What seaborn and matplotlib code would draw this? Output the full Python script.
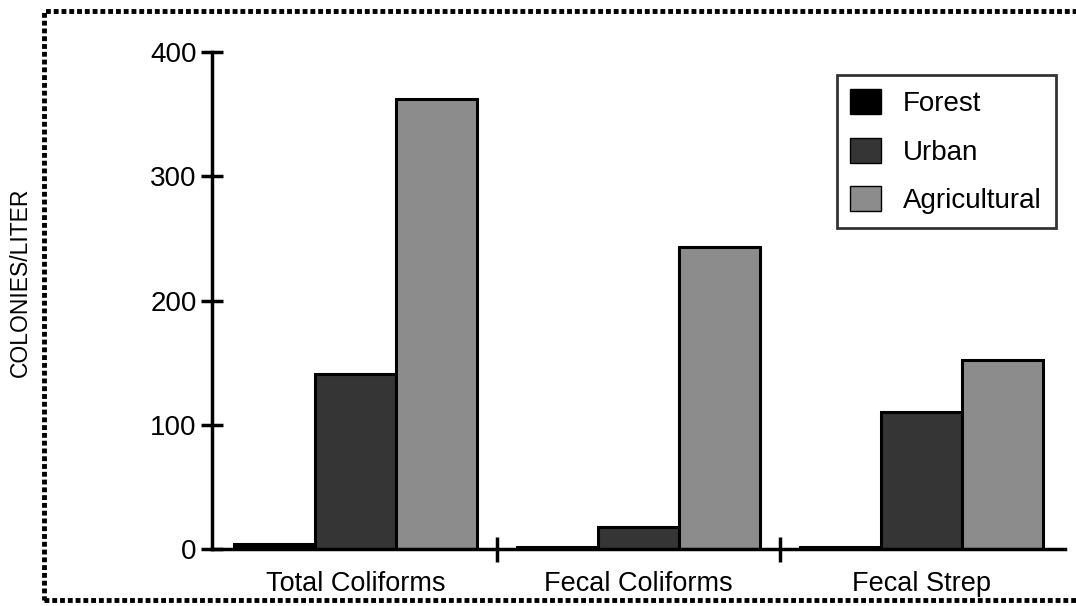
import matplotlib
matplotlib.use("Agg")
import matplotlib.pyplot as plt
import seaborn as sns
import pandas as pd
from matplotlib.patches import Rectangle

categories = ["Total Coliforms", "Fecal Coliforms", "Fecal Strep"]
land_uses = ["Forest", "Urban", "Agricultural"]
forest = [4, 2, 1.5]
urban = [141, 18, 110]
agricultural = [362, 243, 152]
y_ticks = [0, 100, 200, 300, 400]

rows = []
for lu, vals in zip(land_uses, [forest, urban, agricultural]):
    for c, v in zip(categories, vals):
        rows.append({"category": c, "land": lu, "value": v})
df = pd.DataFrame(rows)

sns.set_theme(style="white")
plt.rcParams["font.family"] = ["Liberation Sans", "DejaVu Sans"]
plt.rcParams["text.color"] = "black"
plt.rcParams["axes.labelcolor"] = "black"
plt.rcParams["xtick.color"] = "black"
plt.rcParams["ytick.color"] = "black"

fig = plt.figure(figsize=(10.76, 6.06), dpi=100)
ax = fig.add_axes([0.197, 0.094, 0.793, 0.820])

palette = ["#000000", "#353535", "#8c8c8c"]
sns.barplot(data=df, x="category", y="value", hue="land", order=categories,
            hue_order=land_uses, palette=palette, width=0.857, gap=0,
            edgecolor="black", linewidth=2.2, saturation=1, ax=ax)

ax.set_xlim(-0.507, 2.507)
ax.set_ylim(0, 400)
ax.set_yticks(y_ticks)
ax.set_yticklabels([str(t) for t in y_ticks], fontsize=20)
ax.set_xticks([0.5, 1.5])
ax.set_xticklabels([])
ax.set_xticks([0, 1, 2], minor=True)
ax.set_xticklabels(categories, minor=True, fontsize=19.5)
ax.tick_params(axis="x", which="minor", bottom=True, length=0, pad=16)
ax.tick_params(axis="x", which="major", bottom=True, direction="inout",
               length=18, width=2.5, color="black")
ax.tick_params(axis="y", left=True, direction="inout", length=16, width=2.5,
               color="black", pad=3)
ax.set_xlabel("")
ax.set_ylabel("COLONIES/LITER", fontsize=16.5)
ax.yaxis.label.set_verticalalignment("center")
ax.yaxis.set_label_coords(-0.225, 0.537)

for s in ["top", "right"]:
    ax.spines[s].set_visible(False)
for s in ["left", "bottom"]:
    ax.spines[s].set_color("black")
    ax.spines[s].set_linewidth(2.5)

leg = ax.legend(loc="upper right", bbox_to_anchor=(0.989, 0.954), fontsize=20,
                frameon=True, fancybox=False, edgecolor="black", handlelength=1.1,
                handleheight=1.0, handletextpad=0.8, labelspacing=0.75,
                borderpad=0.5, borderaxespad=0, title=None)
leg.get_frame().set_linewidth(2)
for h in leg.legend_handles:
    h.set_edgecolor("black")
    h.set_linewidth(1)

border = Rectangle((0.041, 0.01), 0.975, 0.972, transform=fig.transFigure,
                   fill=False, edgecolor="black", linewidth=3.5,
                   linestyle=(0, (1, 0.6)), clip_on=False)
fig.patches.append(border)

fig.savefig("out.png", dpi=100)
